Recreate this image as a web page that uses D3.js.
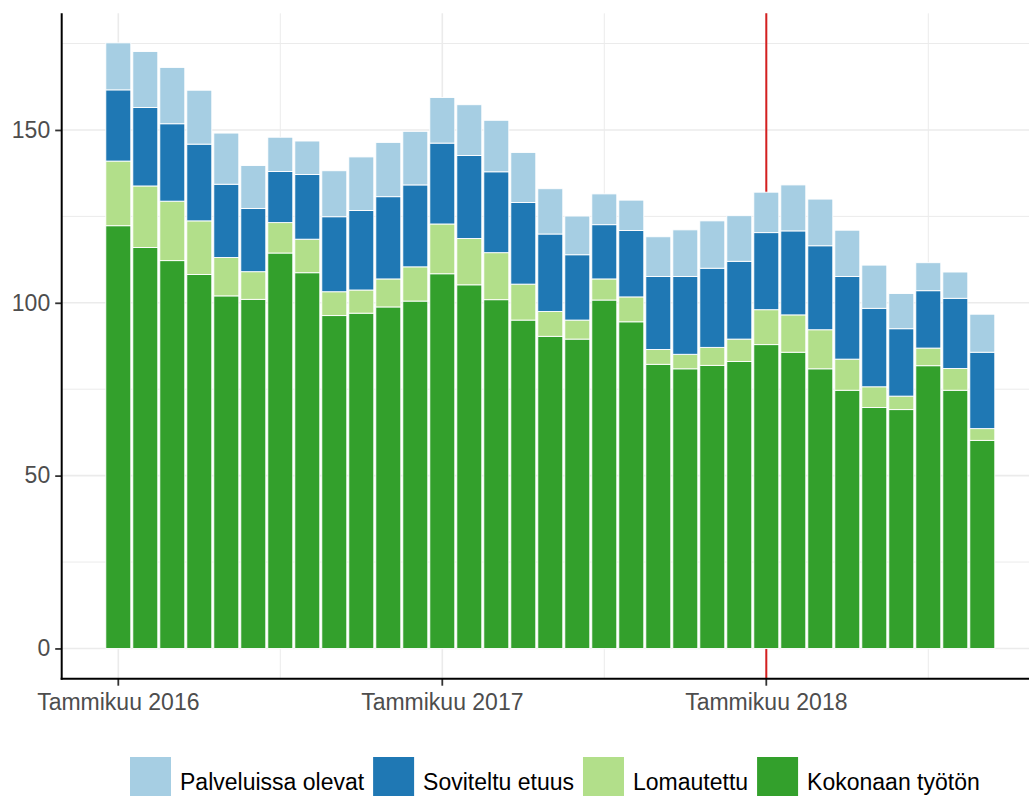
<!DOCTYPE html>
<html>
<head>
<meta charset="utf-8">
<script src="https://cdn.jsdelivr.net/npm/d3@7/dist/d3.min.js"></script>
<style>
  html, body { margin: 0; padding: 0; background: #fff; }
  svg { display: block; font-family: "Liberation Sans", Arial, sans-serif; }
</style>
</head>
<body>
<svg id="chart" width="1029" height="796"></svg>
<script>
// ---- data ----
const months = [
  "2016-01","2016-02","2016-03","2016-04","2016-05","2016-06","2016-07","2016-08","2016-09","2016-10","2016-11","2016-12",
  "2017-01","2017-02","2017-03","2017-04","2017-05","2017-06","2017-07","2017-08","2017-09","2017-10","2017-11","2017-12",
  "2018-01","2018-02","2018-03","2018-04","2018-05","2018-06","2018-07","2018-08","2018-09"
];
const kokonaan = [122.3,116.0,112.2,108.2,102.0,101.0,114.4,108.7,96.3,97.0,98.8,100.5,
                  108.4,105.2,100.9,95.0,90.3,89.5,100.8,94.5,82.2,80.9,81.9,83.0,
                  87.9,85.7,80.9,74.7,69.7,69.1,81.8,74.7,60.2];
const lomautettu = [18.7,17.8,17.2,15.5,11.1,8.0,8.8,9.7,6.9,6.7,8.1,9.9,
                    14.4,13.4,13.6,10.4,7.2,5.5,6.1,7.2,4.3,4.2,5.2,6.5,
                    10.1,10.8,11.3,9.0,6.0,3.9,5.1,6.3,3.4];
const soviteltu = [20.6,22.7,22.4,22.2,21.2,18.3,14.8,18.7,21.7,23.0,23.8,23.7,
                   23.4,24.0,23.4,23.6,22.4,18.9,15.7,19.2,21.1,22.5,22.9,22.5,
                   22.3,24.3,24.3,23.9,22.7,19.5,16.6,20.3,22.1];
const palveluissa = [13.6,16.2,16.3,15.6,14.8,12.4,9.9,9.7,13.3,15.5,15.7,15.5,
                     13.2,14.7,14.9,14.5,13.1,11.2,8.9,8.8,11.5,13.5,13.7,13.2,
                     11.7,13.3,13.5,13.4,12.5,10.2,8.1,7.6,11.0];

const seriesKeys = ["kokonaan","lomautettu","soviteltu","palveluissa"];
const seriesNames = {
  palveluissa: "Palveluissa olevat",
  soviteltu: "Soviteltu etuus",
  lomautettu: "Lomautettu",
  kokonaan: "Kokonaan työtön"
};
const legendOrder = ["palveluissa","soviteltu","lomautettu","kokonaan"];
const colors = {
  palveluissa: "#a6cee3",
  soviteltu: "#1f78b4",
  lomautettu: "#b2df8a",
  kokonaan: "#33a02c"
};

const tickMonths = ["2016-01","2017-01","2018-01"];
const tickLabels = ["Tammikuu 2016","Tammikuu 2017","Tammikuu 2018"];
const minorMonths = ["2016-07","2017-07","2018-07"];
const markerMonth = "2018-01";
const yTicks = [0, 50, 100, 150];
const yMinor = [25, 75, 125, 175];

// ---- table ----
const table = months.map((m, i) => ({
  month: m,
  kokonaan: kokonaan[i],
  lomautettu: lomautettu[i],
  soviteltu: soviteltu[i],
  palveluissa: palveluissa[i]
}));
const stacked = d3.stack().keys(seriesKeys)(table);

// ---- layout ----
const svg = d3.select("#chart");
const W = 1029;
const panel = { left: 61.7, right: W, top: 13.3, bottom: 678.7 };

const x = d3.scaleBand()
  .domain(months)
  .range([104.8, 995.8])
  .paddingInner(0.074)
  .paddingOuter(0.037);
const xc = m => x(m) + x.bandwidth() / 2;

const y = d3.scaleLinear()
  .domain([-8.75, 183.75])
  .range([panel.bottom, panel.top]);

svg.append("rect").attr("width", W).attr("height", 796).attr("fill", "#fff");

// grid
const grid = svg.append("g");
grid.selectAll(".hmin").data(yMinor).join("line")
  .attr("x1", panel.left).attr("x2", panel.right)
  .attr("y1", d => y(d)).attr("y2", d => y(d))
  .attr("stroke", "#ebebeb").attr("stroke-width", 1);
grid.selectAll(".hmaj").data(yTicks).join("line")
  .attr("x1", panel.left).attr("x2", panel.right)
  .attr("y1", d => y(d)).attr("y2", d => y(d))
  .attr("stroke", "#ebebeb").attr("stroke-width", 1.6);
grid.selectAll(".vmin").data(minorMonths).join("line")
  .attr("x1", d => xc(d)).attr("x2", d => xc(d))
  .attr("y1", panel.top).attr("y2", panel.bottom)
  .attr("stroke", "#ebebeb").attr("stroke-width", 1);
grid.selectAll(".vmaj").data(tickMonths).join("line")
  .attr("x1", d => xc(d)).attr("x2", d => xc(d))
  .attr("y1", panel.top).attr("y2", panel.bottom)
  .attr("stroke", "#ebebeb").attr("stroke-width", 1.6);

// red marker line (under bars)
svg.append("line")
  .attr("x1", xc(markerMonth)).attr("x2", xc(markerMonth))
  .attr("y1", panel.top).attr("y2", panel.bottom)
  .attr("stroke", "#d42020").attr("stroke-width", 2);

// bars
svg.append("g").selectAll("g").data(stacked).join("g")
  .attr("fill", d => colors[d.key])
  .selectAll("rect").data(d => d).join("rect")
  .attr("x", d => x(d.data.month))
  .attr("width", x.bandwidth())
  .attr("y", d => y(d[1]))
  .attr("height", d => y(d[0]) - y(d[1]))
  .attr("stroke", "#fff")
  .attr("stroke-width", 0.9);

// axes
const yAxis = svg.append("g")
  .attr("transform", `translate(${panel.left},0)`)
  .call(d3.axisLeft(y).tickValues(yTicks).tickSize(6.5).tickPadding(5).tickFormat(d3.format("d")));
yAxis.select(".domain").remove();
yAxis.selectAll(".tick line").attr("stroke", "#333").attr("stroke-width", 1.8);
yAxis.selectAll(".tick text").attr("fill", "#4d4d4d").attr("font-size", 23)
  .attr("font-family", "Liberation Sans, Arial, sans-serif");

const xAxis = svg.append("g")
  .attr("transform", `translate(0,${panel.bottom})`)
  .call(d3.axisBottom(x).tickValues(tickMonths).tickSize(7).tickPadding(8)
    .tickFormat(d => tickLabels[tickMonths.indexOf(d)]));
xAxis.select(".domain").remove();
xAxis.selectAll(".tick line").attr("stroke", "#333").attr("stroke-width", 1.8);
xAxis.selectAll(".tick text").attr("fill", "#4d4d4d").attr("font-size", 23)
  .attr("font-family", "Liberation Sans, Arial, sans-serif");

// axis lines
svg.append("line")
  .attr("x1", panel.left).attr("x2", panel.left)
  .attr("y1", panel.top).attr("y2", panel.bottom + 1)
  .attr("stroke", "#000").attr("stroke-width", 2);
svg.append("line")
  .attr("x1", panel.left - 1).attr("x2", panel.right)
  .attr("y1", panel.bottom).attr("y2", panel.bottom)
  .attr("stroke", "#000").attr("stroke-width", 2);

// legend
const legend = svg.append("g");
let lx = 130;
legendOrder.forEach(k => {
  legend.append("rect")
    .attr("x", lx).attr("y", 757).attr("width", 41).attr("height", 41)
    .attr("fill", colors[k]);
  const t = legend.append("text")
    .attr("x", lx + 50).attr("y", 790)
    .attr("font-size", 23).attr("fill", "#000")
    .text(seriesNames[k]);
  lx = lx + 50 + t.node().getComputedTextLength() + 9;
});
</script>
</body>
</html>
